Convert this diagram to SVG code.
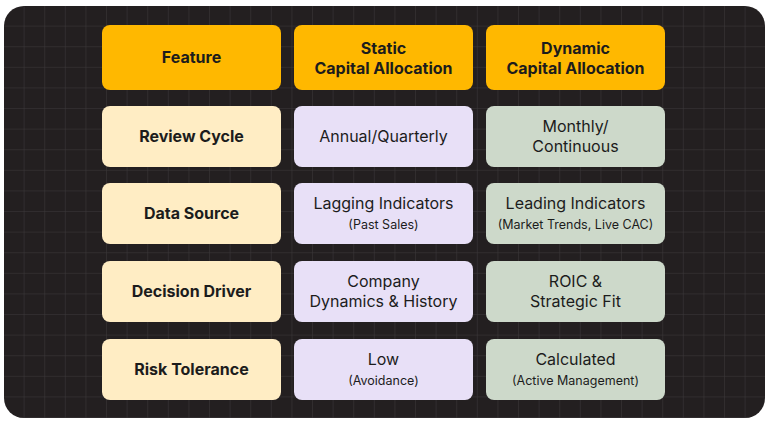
<svg xmlns="http://www.w3.org/2000/svg" width="768" height="432" viewBox="0 0 768 432">
<defs>
<pattern id="grid" width="20.6" height="20.6" patternUnits="userSpaceOnUse" x="4" y="6">
<path d="M20.6 0V20.6M0 20.6H20.6" fill="none" stroke="#3d3a3b" stroke-width="1"/>
</pattern>
<style>
.h{fill:#FFB800}.f{fill:#FFEDC4}.s{fill:#E8E0F7}.d{fill:#CDD9CA}
text{font-family:Inter,"Noto Sans",sans-serif;fill:#1c1c1c;text-anchor:middle}
.b{font-weight:700;font-size:16px}.r{font-size:16px}.sm{font-size:12.5px}
</style>
</defs>
<rect width="768" height="432" fill="#fff"/>
<rect x="4" y="6" width="761" height="412" rx="20" fill="#231f20"/>
<rect x="4" y="6" width="761" height="412" rx="20" fill="url(#grid)"/>
<g id="header">
<rect class="h" x="102" y="25" width="179" height="65" rx="8"/><text class="b" x="191.5" y="63">Feature</text>
<rect class="h" x="294" y="25" width="179" height="65" rx="8"/><text class="b" x="383.5" y="54">Static</text><text class="b" x="383.5" y="74">Capital Allocation</text>
<rect class="h" x="486" y="25" width="179" height="65" rx="8"/><text class="b" x="575.5" y="54">Dynamic</text><text class="b" x="575.5" y="74">Capital Allocation</text>
</g>
<g id="row-review">
<rect class="f" x="102" y="106" width="179" height="61" rx="8"/><text class="b" x="191.5" y="142">Review Cycle</text>
<rect class="s" x="294" y="106" width="179" height="61" rx="8"/><text class="r" x="383.5" y="142">Annual/Quarterly</text>
<rect class="d" x="486" y="106" width="179" height="61" rx="8"/><text class="r" x="575.5" y="132">Monthly/</text><text class="r" x="575.5" y="152">Continuous</text>
</g>
<g id="row-data">
<rect class="f" x="102" y="183" width="179" height="61" rx="8"/><text class="b" x="191.5" y="219">Data Source</text>
<rect class="s" x="294" y="183" width="179" height="61" rx="8"/><text class="r" x="383.5" y="209">Lagging Indicators</text><text class="sm" x="383.5" y="229">(Past Sales)</text>
<rect class="d" x="486" y="183" width="179" height="61" rx="8"/><text class="r" x="575.5" y="209">Leading Indicators</text><text class="sm" x="575.5" y="229">(Market Trends, Live CAC)</text>
</g>
<g id="row-decision">
<rect class="f" x="102" y="261" width="179" height="61" rx="8"/><text class="b" x="191.5" y="297">Decision Driver</text>
<rect class="s" x="294" y="261" width="179" height="61" rx="8"/><text class="r" x="383.5" y="287">Company</text><text class="r" x="383.5" y="307">Dynamics &amp; History</text>
<rect class="d" x="486" y="261" width="179" height="61" rx="8"/><text class="r" x="575.5" y="287">ROIC &amp;</text><text class="r" x="575.5" y="307">Strategic Fit</text>
</g>
<g id="row-risk">
<rect class="f" x="102" y="339" width="179" height="61" rx="8"/><text class="b" x="191.5" y="375">Risk Tolerance</text>
<rect class="s" x="294" y="339" width="179" height="61" rx="8"/><text class="r" x="383.5" y="365">Low</text><text class="sm" x="383.5" y="385">(Avoidance)</text>
<rect class="d" x="486" y="339" width="179" height="61" rx="8"/><text class="r" x="575.5" y="365">Calculated</text><text class="sm" x="575.5" y="385">(Active Management)</text>
</g>
<g id="connectors"/>
</svg>
